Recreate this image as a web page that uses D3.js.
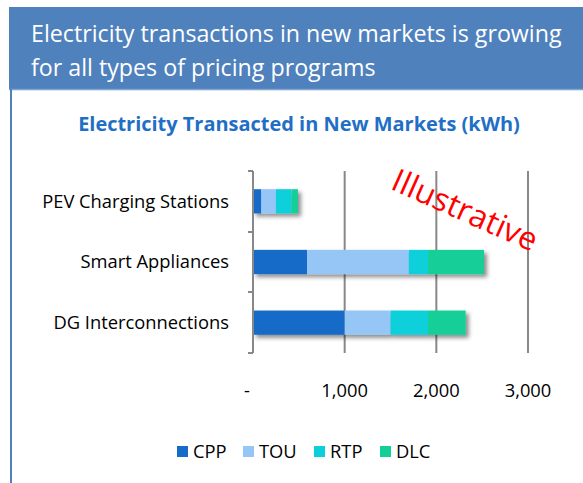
<!DOCTYPE html>
<html>
<head>
<meta charset="utf-8">
<script src="https://cdn.jsdelivr.net/npm/d3@7"></script>
<style>
  body { margin: 0; background: #fff; }
  svg { display: block; font-family: "Open Sans", sans-serif; }
</style>
</head>
<body>
<svg id="chart" width="583" height="483"></svg>
<script>
// Chart data
const categories = ["PEV Charging Stations", "Smart Appliances", "DG Interconnections"];
const seriesNames = ["CPP", "TOU", "RTP", "DLC"];
const CPP = [90, 590, 1000];
const TOU = [160, 1110, 500];
const RTP = [170, 210, 410];
const DLC = [70, 610, 410];
const xTicks = [0, 1000, 2000, 3000];
const xTickLabels = ["-", "1,000", "2,000", "3,000"];

const COLORS = {
    CPP: "#176bc8",
    TOU: "#95c6f6",
    RTP: "#0bd0da",
    DLC: "#12cf98",
};

const svg = d3.select('#chart');

// font size that makes a string span a given width
function fitSize(str, width, weight) {
    const t = svg.append('text')
        .attr('font-size', 100)
        .attr('font-weight', weight || 'normal')
        .text(str);
    const len = t.node().getComputedTextLength();
    t.remove();
    return 100 * width / len;
}

const headerSize = fitSize('Electricity transactions in new markets is growing', 531);
const titleSize = fitSize('Electricity Transacted in New Markets (kWh)', 442, 'bold');
const labelSize = fitSize('PEV Charging Stations', 187);

// Header band
svg.append('rect')
    .attr('x', 9).attr('y', 7)
    .attr('width', 574).attr('height', 82)
    .attr('fill', '#4f81bd');
svg.append('line')
    .attr('x1', 9).attr('x2', 583).attr('y1', 89.5).attr('y2', 89.5)
    .attr('stroke', '#7ea3d3').attr('stroke-width', 1.5);
svg.append('line')
    .attr('x1', 11).attr('x2', 11).attr('y1', 89).attr('y2', 483)
    .attr('stroke', '#4f81bd').attr('stroke-width', 2);

const header = svg.append('text')
    .attr('fill', '#fff')
    .attr('font-size', headerSize);
header.append('tspan').attr('x', 31).attr('y', 42)
    .text('Electricity transactions in new markets is growing');
header.append('tspan').attr('x', 31).attr('y', 76)
    .text('for all types of pricing programs');

// Chart title
svg.append('text')
    .attr('x', 299).attr('y', 131)
    .attr('text-anchor', 'middle')
    .attr('font-size', titleSize)
    .attr('font-weight', 'bold')
    .attr('fill', '#1f6fc6')
    .text('Electricity Transacted in New Markets (kWh)');

// Scales
const x = d3.scaleLinear().domain([0, 3000]).range([253, 528]);
const y = d3.scaleBand().domain(categories).range([171, 353]).paddingInner(0.6).paddingOuter(0.3);

// Drop shadow
const defs = svg.append('defs');
const shadow = defs.append('filter').attr('id', 'shadow')
    .attr('x', '-10%').attr('y', '-30%').attr('width', '130%').attr('height', '180%');
shadow.append('feDropShadow')
    .attr('dx', 3).attr('dy', 3).attr('stdDeviation', 2)
    .attr('flood-color', '#000').attr('flood-opacity', 0.45);

// Gridlines
svg.append('g')
    .selectAll('line')
    .data(xTicks.slice(1))
    .join('line')
    .attr('x1', d => x(d)).attr('x2', d => x(d))
    .attr('y1', 171).attr('y2', 353)
    .attr('stroke', '#888').attr('stroke-width', 2);

// Stacked bars
const table = categories.map((c, i) => ({ cat: c, CPP: CPP[i], TOU: TOU[i], RTP: RTP[i], DLC: DLC[i] }));
const stack = d3.stack().keys(seriesNames)(table);

const barG = svg.append('g');
table.forEach((row, i) => {
    const g = barG.append('g').attr('filter', 'url(#shadow)');
    stack.forEach(layer => {
        const seg = layer[i];
        g.append('rect')
            .attr('x', x(seg[0]))
            .attr('y', y(row.cat))
            .attr('width', x(seg[1]) - x(seg[0]))
            .attr('height', y.bandwidth())
            .attr('fill', COLORS[layer.key]);
    });
});

// Value axis line (at zero) with category tick marks
svg.append('line')
    .attr('x1', x(0)).attr('x2', x(0)).attr('y1', 171).attr('y2', 353)
    .attr('stroke', '#888').attr('stroke-width', 2);
svg.append('g')
    .selectAll('line')
    .data([171, 232, 292, 353])
    .join('line')
    .attr('x1', x(0) - 5).attr('x2', x(0))
    .attr('y1', d => d).attr('y2', d => d)
    .attr('stroke', '#888').attr('stroke-width', 2);

// Category labels
svg.append('g')
    .selectAll('text')
    .data(categories)
    .join('text')
    .attr('x', 229)
    .attr('y', d => y(d) + y.bandwidth() / 2)
    .attr('dy', '0.35em')
    .attr('text-anchor', 'end')
    .attr('font-size', labelSize)
    .attr('fill', '#000')
    .text(d => d);

// X tick labels
svg.append('g')
    .selectAll('text')
    .data(xTicks)
    .join('text')
    .attr('x', d => d === 0 ? x(d) - 6 : x(d))
    .attr('y', 397)
    .attr('text-anchor', 'middle')
    .attr('font-size', labelSize)
    .attr('fill', '#000')
    .text((d, i) => xTickLabels[i]);

// Watermark
svg.append('text')
    .attr('transform', 'translate(465,210) rotate(24)')
    .attr('text-anchor', 'middle')
    .attr('dy', '0.35em')
    .attr('font-size', 32)
    .attr('fill', '#ff0000')
    .text('Illustrative');

// Legend
const legendX = [177, 243, 314, 380];
const legend = svg.append('g')
    .selectAll('g')
    .data(seriesNames)
    .join('g')
    .attr('transform', (d, i) => `translate(${legendX[i]},446)`);
legend.append('rect')
    .attr('width', 11).attr('height', 11)
    .attr('fill', d => COLORS[d]);
legend.append('text')
    .attr('x', 16).attr('y', 12)
    .attr('font-size', labelSize)
    .attr('fill', '#000')
    .text(d => d);
</script>
</body>
</html>
